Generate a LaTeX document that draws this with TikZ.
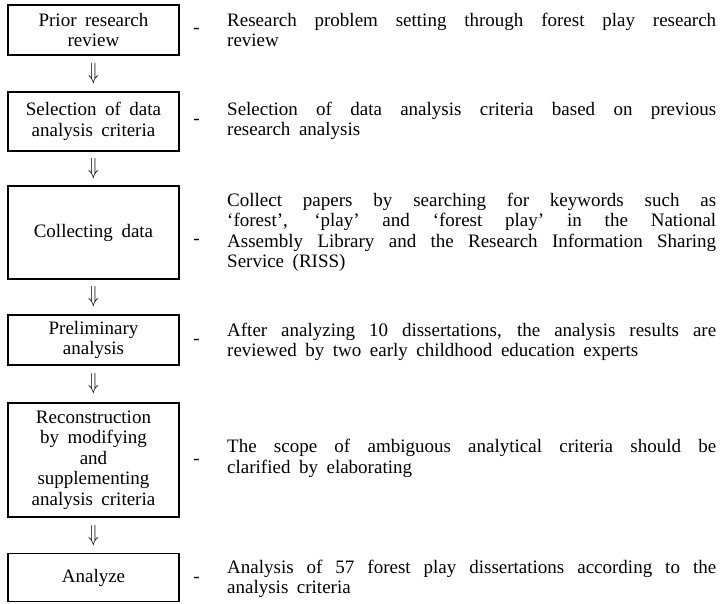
\documentclass[tikz,border=0pt]{standalone}
\usepackage{fontspec}
\setmainfont{Liberation Serif}
\usetikzlibrary{calc}

\newcommand\stepfont{\fontsize{19}{20.5}\selectfont}
\newcommand\widespace{\spaceskip=.45em plus 3em minus .1em\relax}

\tikzset{
  stepbox/.style={draw, line width=1.6pt, minimum width=171pt, inner sep=1pt, align=center,
    font=\stepfont, execute at begin node=\widespace},
  desc/.style={anchor=west, inner sep=0pt, text width=489pt, align=justify,
    font=\stepfont, execute at begin node=\widespace},
  dashmark/.style={inner sep=0pt, font=\stepfont},
  darrow/.style={inner sep=0pt, font=\stepfont}
}

\begin{document}
\begin{tikzpicture}[x=1pt, y=-1pt]
    \useasboundingbox (0,0) rectangle (720,604);
    \node[stepbox, minimum height=50pt] (s1) at (93.5,30) {Prior research\\review};
    \node[stepbox, minimum height=59pt] (s2) at (93.5,121.5) {Selection of data\\analysis criteria};
    \node[stepbox, minimum height=93pt] (s3) at (93.5,232.5) {Collecting data};
    \node[stepbox, minimum height=50pt] (s4) at (93.5,340) {Preliminary\\analysis};
    \node[stepbox, minimum height=114pt] (s5) at (93.5,460) {Reconstruction\\by modifying\\and\\supplementing\\analysis criteria};
    \node[stepbox, minimum height=48pt] (s6) at (93.5,577.5) {Analyze};
    % arrows between the steps
    \foreach \a/\b in {s1/s2, s2/s3, s3/s4, s4/s5, s5/s6}
      \node[darrow] (ar-\a) at ($(\a.south)!0.5!(\b.north)$) {\scalebox{1}[1.35]{$\Downarrow$}};
    % dashes
    \node[dashmark] (d1) at (196.5,31) {-};
    \node[dashmark] (d2) at (196.5,122) {-};
    \node[dashmark] (d3) at (196.5,242) {-};
    \node[dashmark] (d4) at (196.5,342) {-};
    \node[dashmark] (d5) at (196.5,462) {-};
    \node[dashmark] (d6) at (196.5,580) {-};
    % descriptions
    \node[desc] (t1) at (227,30) {Research problem setting through forest play research\linebreak review};
    \node[desc] (t2) at (227,121) {Selection of data analysis criteria based on previous\linebreak research analysis};
    \node[desc] (t3) at (227,232.5) {Collect papers by searching for keywords such as\linebreak ‘forest’, ‘play’ and ‘forest play’ in the National\linebreak Assembly Library and the Research Information Sharing\linebreak Service (RISS)};
    \node[desc] (t4) at (227,342) {After analyzing 10 dissertations, the analysis results are\linebreak reviewed by two early childhood education experts};
    \node[desc] (t5) at (227,458.5) {The scope of ambiguous analytical criteria should be\linebreak clarified by elaborating};
    \node[desc] (t6) at (227,579) {Analysis of 57 forest play dissertations according to the\linebreak analysis criteria};
\end{tikzpicture}
\end{document}
